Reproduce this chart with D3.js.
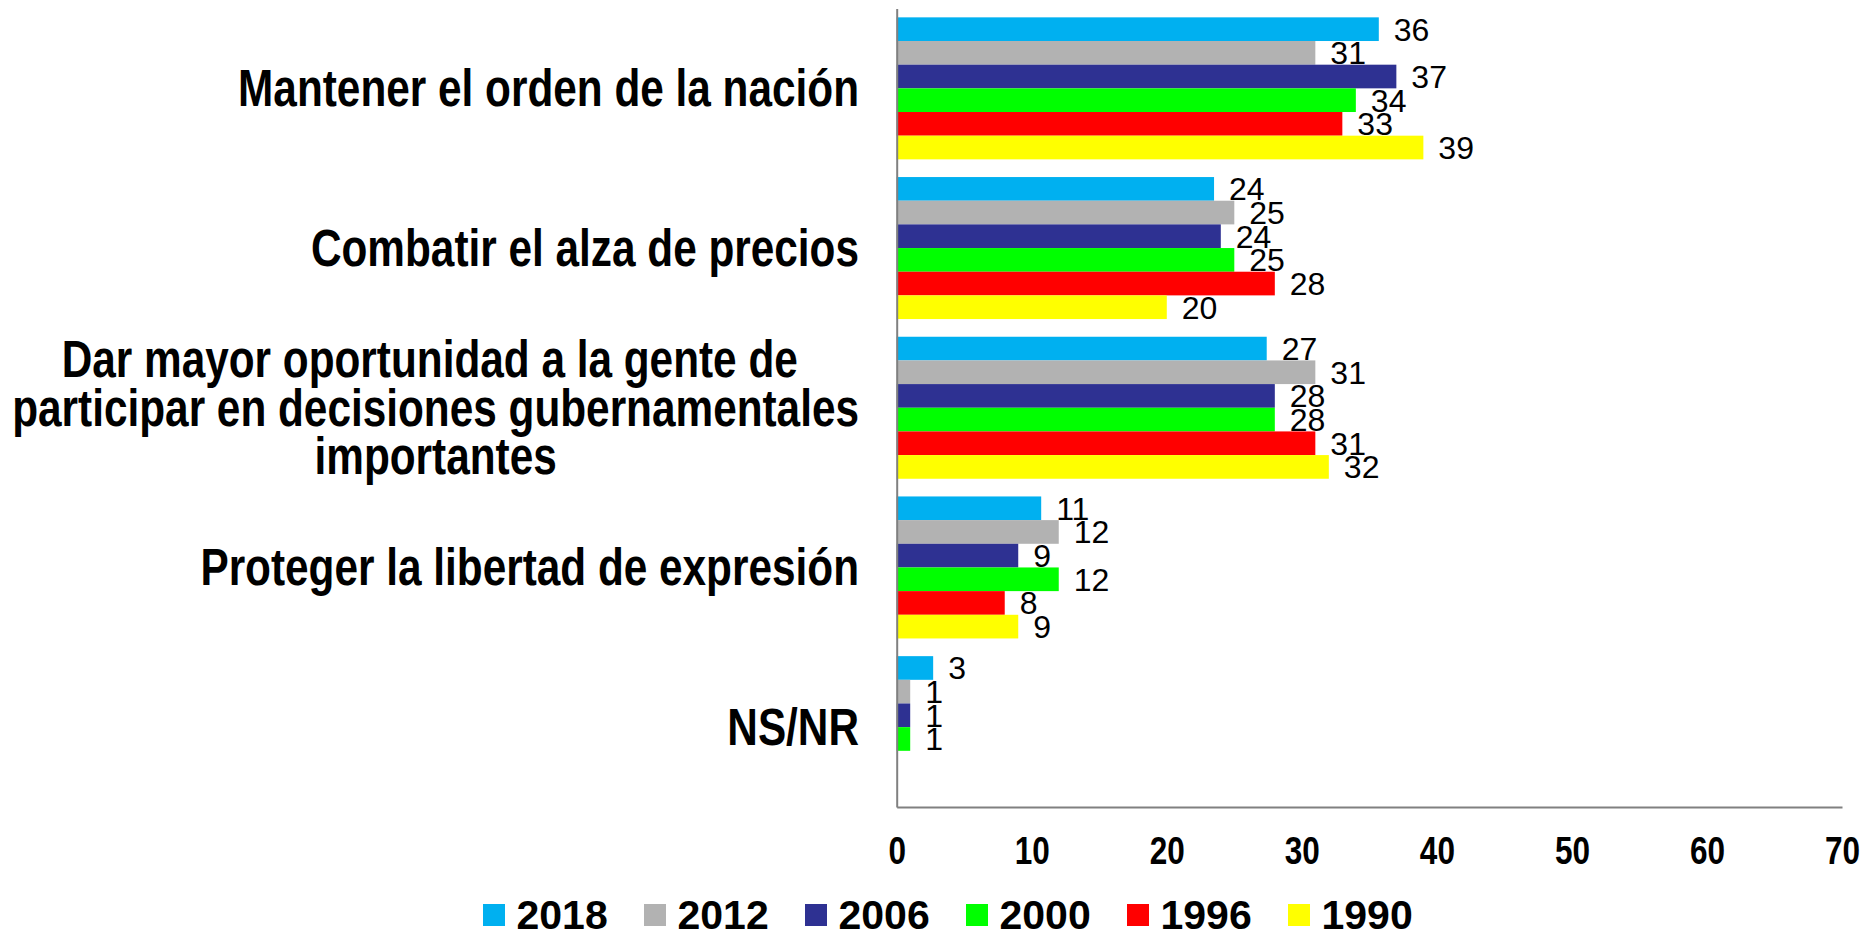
<!DOCTYPE html>
<html>
<head>
<meta charset="utf-8">
<script src="https://cdn.jsdelivr.net/npm/d3@7"></script>
<style>
    body { margin: 0; background: #ffffff; }
    svg { display: block; }
</style>
</head>
<body>
<svg id="svg1" width="1875" height="934"></svg>
<script>
var Categories = ["Mantener", "Combatir", "Dar", "Proteger", "NSNR"];
var CategoryLines = [
    ["Mantener el orden de la nación"],
    ["Combatir el alza de precios"],
    ["Dar mayor oportunidad a la gente de ", "participar en decisiones gubernamentales", "importantes"],
    ["Proteger la libertad de expresión"],
    ["NS/NR"]
];
var Years = ["2018", "2012", "2006", "2000", "1996", "1990"];
var YearColors = ["#00b0f0", "#b2b2b2", "#2e3192", "#00ff00", "#ff0000", "#ffff00"];

// one array per year, same order as Categories
var Values2018 = [35.7, 23.5, 27.4, 10.7, 2.7];
var Values2012 = [31, 25, 31, 12, 1];
var Values2006 = [37, 24, 28, 9, 1];
var Values2000 = [34, 25, 28, 12, 1];
var Values1996 = [33, 28, 31, 8, null];
var Values1990 = [39, 20, 32, 9, null];
var AllValues = [Values2018, Values2012, Values2006, Values2000, Values1996, Values1990];

var TickValues = [0, 10, 20, 30, 40, 50, 60, 70];

var svg = d3.select("#svg1");
var BoldFont = "'Liberation Sans', Arial, sans-serif";
// the labels in the picture are a squeezed bold face, no narrow font here so scale it
var Squeeze = 0.83;

var x = d3.scaleLinear().domain([0, 70]).range([896.7, 1842]);
var y0 = d3.scaleBand().domain(Categories).range([8.5, 807]);
var y1 = d3.scaleBand().domain(Years).range([8.85, y0.bandwidth() - 8.85]);

var BarData = [];
for (var i = 0; i < Years.length; i++) {
    for (var j = 0; j < Categories.length; j++) {
        if (AllValues[i][j] == null) continue;
        BarData.push({cat: Categories[j], year: Years[i], color: YearColors[i], value: AllValues[i][j]});
    }
}

var bars = svg.append("g").attr("class", "bars");
bars.selectAll("rect")
    .data(BarData)
    .enter()
    .append("rect")
    .attr("x", x(0))
    .attr("y", function(d){ return y0(d.cat) + y1(d.year); })
    .attr("width", function(d){ return x(d.value) - x(0); })
    .attr("height", y1.bandwidth())
    .style("fill", function(d){ return d.color; });

bars.selectAll("text")
    .data(BarData)
    .enter()
    .append("text")
    .attr("x", function(d){ return x(d.value) + 15; })
    .attr("y", function(d){ return y0(d.cat) + y1(d.year) + y1.bandwidth() / 2 + 11.5; })
    .style("font-family", BoldFont)
    .style("font-size", "32px")
    .style("fill", "#000")
    .text(function(d){ return Math.round(d.value); });

// axes
var xAxis = svg.append("g")
    .attr("transform", "translate(0,807)")
    .call(d3.axisBottom(x).tickValues(TickValues).tickSize(0).tickSizeOuter(0).tickPadding(30));
xAxis.select(".domain").style("stroke", "#808080").style("stroke-width", 2);
xAxis.selectAll("text")
    .attr("transform", "scale(" + Squeeze + ",1)")
    .style("font-family", BoldFont)
    .style("font-weight", "bold")
    .style("font-size", "38px")
    .style("fill", "#000");

var yAxis = svg.append("g")
    .attr("transform", "translate(" + x(0) + ",0)")
    .call(d3.axisLeft(y0).tickSize(0).tickSizeOuter(0).tickFormat(""));
yAxis.select(".domain").style("stroke", "#808080").style("stroke-width", 2);

// category labels, multi line ones centred on the longest line
var LabelRight = 859;
var LineStep = 48.5;
var catLabels = svg.append("g")
    .attr("class", "catLabels")
    .attr("transform", "translate(" + LabelRight + ",0) scale(" + Squeeze + ",1)");
for (var c = 0; c < Categories.length; c++) {
    var lines = CategoryLines[c];
    var mid = y0(Categories[c]) + y0.bandwidth() / 2;
    var t = catLabels.append("text")
        .style("font-family", BoldFont)
        .style("font-weight", "bold")
        .style("font-size", "51px")
        .style("fill", "#000");
    var spans = [];
    for (var k = 0; k < lines.length; k++) {
        spans.push(t.append("tspan")
            .attr("y", mid + 18 + (k - (lines.length - 1) / 2) * LineStep)
            .style("white-space", "pre")
            .text(lines[k]));
    }
    var widths = spans.map(function(s){ return s.node().getComputedTextLength(); });
    var maxW = d3.max(widths);
    spans.forEach(function(s, k){
        s.attr("x", -maxW / 2 - widths[k] / 2);
    });
}

// legend
var legend = svg.append("g").attr("class", "legend");
var items = legend.selectAll("g")
    .data(Years)
    .enter()
    .append("g")
    .attr("transform", function(d, i){ return "translate(" + (483 + i * 161) + ",904)"; });
items.append("rect")
    .attr("width", 22)
    .attr("height", 22)
    .style("fill", function(d, i){ return YearColors[i]; });
items.append("text")
    .attr("x", 33.5)
    .attr("y", 25)
    .style("font-family", BoldFont)
    .style("font-weight", "bold")
    .style("font-size", "41px")
    .style("fill", "#000")
    .text(function(d){ return d; });
</script>
</body>
</html>
